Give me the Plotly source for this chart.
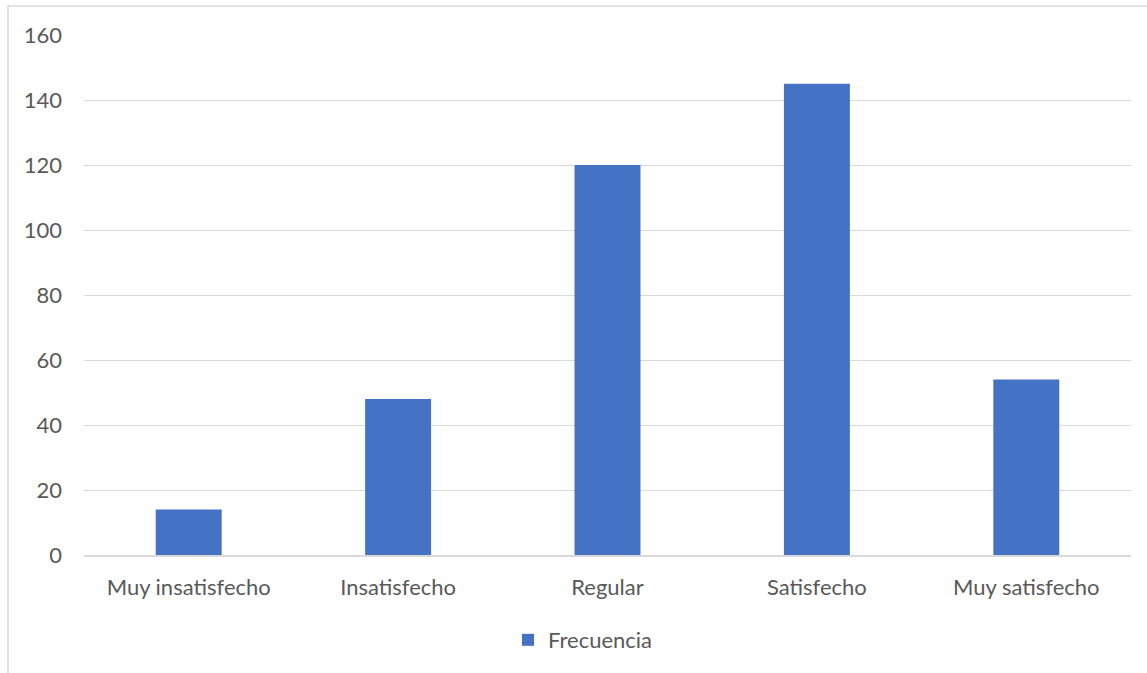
import plotly.graph_objects as go

categories = ["Muy insatisfecho", "Insatisfecho", "Regular", "Satisfecho", "Muy satisfecho"]
frecuencia = [14, 48, 120, 145, 54]
y_ticks = [0, 20, 40, 60, 80, 100, 120, 140, 160]

W, H = 1147, 673
L, R, T, B = 84, 16, 35, 118
pw, ph = W - L - R, H - T - B

def px_x(x):
    return (x - L) / pw

def px_y(y):
    return 1 - (y - T) / ph

font = dict(family="Lato, Carlito, Arial", size=22, color="#595959")

fig = go.Figure(
    go.Bar(
        x=categories,
        y=frecuencia,
        name="Frecuencia",
        marker=dict(color="#4472C4", line=dict(width=0)),
        width=0.315,
    )
)

fig.update_layout(
    width=W,
    height=H,
    margin=dict(l=L, r=R, t=T, b=B),
    paper_bgcolor="white",
    plot_bgcolor="white",
    font=font,
    showlegend=True,
    legend=dict(
        orientation="h",
        x=px_x(508),
        y=px_y(640),
        xanchor="left",
        yanchor="middle",
        font=font,
        itemwidth=30,
    ),
    xaxis=dict(
        showgrid=False,
        showline=True,
        linecolor="#D9D9D9",
        linewidth=1.5,
        ticks="",
        ticklabelstandoff=12,
        tickfont=font,
    ),
    yaxis=dict(
        range=[0, 160],
        tickvals=y_ticks,
        showgrid=True,
        gridcolor="#D9D9D9",
        gridwidth=1.3,
        zeroline=False,
        showline=False,
        ticks="",
        ticklabelstandoff=21,
        tickfont=font,
    ),
    shapes=[
        dict(type="line", xref="paper", yref="paper",
             x0=px_x(8), x1=px_x(8), y0=px_y(5), y1=px_y(680),
             line=dict(color="#D9D9D9", width=1.5)),
        dict(type="line", xref="paper", yref="paper",
             x0=px_x(8), x1=px_x(1160), y0=px_y(6), y1=px_y(6),
             line=dict(color="#D9D9D9", width=1.5)),
    ],
)

fig.write_html("out.html")
